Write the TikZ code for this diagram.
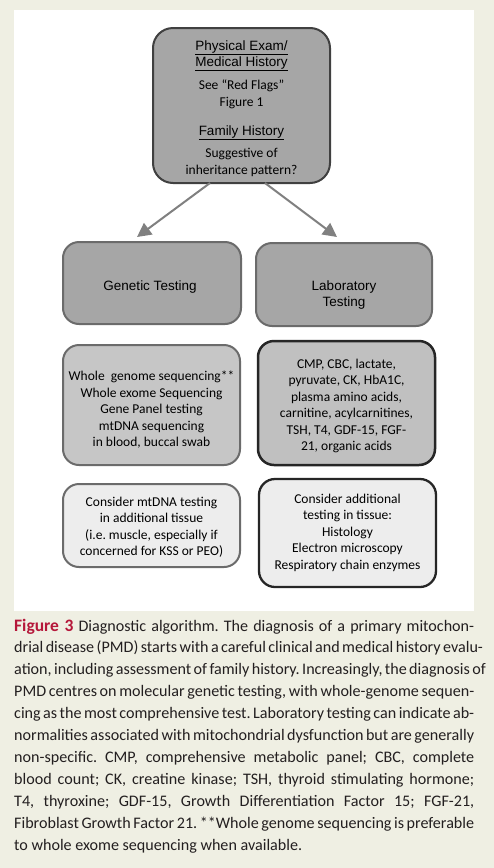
\documentclass[tikz,border=0pt]{standalone}
\usepackage{fontspec}
\setmainfont{Carlito}
\newfontfamily\arialf{Liberation Sans}
\newfontfamily\capf{Carlito}
\usetikzlibrary{arrows.meta}
\frenchspacing
\definecolor{bgcream}{HTML}{EFEFE3}
\definecolor{dkfill}{HTML}{A6A6A6}
\definecolor{mdfill}{HTML}{C6C6C6}
\definecolor{mdfillb}{HTML}{C0C0C0}
\definecolor{ltfill}{HTML}{EDEDED}
\definecolor{dkline}{HTML}{404040}
\definecolor{gyline}{HTML}{6B6B6B}
\definecolor{blline}{HTML}{262626}
\definecolor{arrowgrey}{HTML}{808080}
\definecolor{figred}{HTML}{B5173A}
\definecolor{captext}{HTML}{231F20}
\newcommand{\capline}[1]{\makebox[460pt][s]{#1}}
\tikzset{
  x=1pt, y=-1pt,
  boxbase/.style={draw, rectangle, rounded corners=16pt, inner sep=0pt, line width=2pt},
  topbox/.style={boxbase, fill=dkfill, draw=dkline, rounded corners=20pt},
  headbox/.style={boxbase, fill=dkfill, draw=gyline},
  midbox/.style={boxbase, fill=mdfill, draw=gyline},
  midboxb/.style={boxbase, fill=mdfillb, draw=blline, line width=2.5pt},
  lowbox/.style={boxbase, fill=ltfill, draw=gyline},
  lowboxb/.style={boxbase, fill=ltfill, draw=blline, line width=2.3pt},
  txt/.style={align=center, inner sep=0pt, font=\fontsize{13.5}{16.5}\selectfont},
  atxt/.style={align=center, inner sep=0pt, font=\arialf\fontsize{13.5}{16}\selectfont},
  arr/.style={draw=arrowgrey, line width=2pt, -{Triangle[length=14pt,width=14pt,fill=arrowgrey]}},
  captxt/.style={anchor=base west, inner sep=0pt, text=captext, font=\capf\fontsize{16.1}{21.9}\selectfont}
}
\begin{document}
\begin{tikzpicture}
\useasboundingbox (0,0) rectangle (494,868);
\fill[bgcream] (0,0) rectangle (494,868);
\fill[white] (14,10) rectangle (474,611);

\node[topbox, minimum width=177pt, minimum height=155pt] (top) at (241.5,105.5) {};
\node[atxt] (t1) at (241.5,56) {\underline{Physical Exam/}\\\underline{Medical History}};
\node[txt] (t2) at (241.5,94.5) {See ``Red Flags''\\Figure 1};
\node[atxt] (t3) at (241.5,133) {\underline{Family History}};
\node[txt] (t4) at (241.5,162.5) {Suggestive of\\inheritance pattern?};

\node[headbox, minimum width=178pt, minimum height=82pt] (gen) at (152,283) {};
\node[atxt] (gent) at (150,287) {Genetic Testing};
\node[headbox, minimum width=176pt, minimum height=83pt] (lab) at (344,284.5) {};
\node[atxt] (labt) at (344,295) {Laboratory\\Testing};

\node[midbox, minimum width=177pt, minimum height=120pt] (wg) at (151.5,405) {};
\node[txt] (wgt) at (151.5,410) {Whole\ \ genome sequencing**\\Whole exome Sequencing\\Gene Panel testing\\mtDNA sequencing\\in blood, buccal swab};
\node[midboxb, minimum width=177pt, minimum height=124pt] (cmp) at (346.5,403) {};
\node[txt] (cmpt) at (346.5,406) {CMP, CBC, lactate,\\pyruvate, CK, HbA1C,\\plasma amino acids,\\carnitine, acylcarnitines,\\TSH, T4, GDF-15, FGF-\\21, organic acids};

\node[lowbox, minimum width=177pt, minimum height=83pt] (mt) at (151.5,525.5) {};
\node[txt] (mtt) at (151.5,527) {Consider mtDNA testing\\in additional tissue\\(i.e. muscle, especially if\\concerned for KSS or PEO)};
\node[lowboxb, minimum width=177pt, minimum height=108pt] (add) at (347.5,533) {};
\node[txt] (addt) at (347.5,532.5) {Consider additional\\testing in tissue:\\Histology\\Electron microscopy\\Respiratory chain enzymes};

\coordinate (a1s) at (210,183);
\coordinate (a1e) at (137,237);
\coordinate (a2s) at (265,183);
\coordinate (a2e) at (337,237);
\draw[arr] (a1s) -- (a1e);
\draw[arr] (a2s) -- (a2e);

\node[captxt] (c1) at (14,631) {\capline{{\bfseries\fontsize{17.5}{21.9}\selectfont\color{figred}Figure 3} Diagnostic algorithm. The diagnosis of a primary mitochon-}};
\node[captxt] (c2) at (14,652.9) {\capline{drial disease (PMD) starts with a careful clinical and medical history evalu-}};
\node[captxt] (c3) at (14,674.8) {\capline{ation, including assessment of family history. Increasingly, the diagnosis of}};
\node[captxt] (c4) at (14,696.7) {\capline{PMD centres on molecular genetic testing, with whole-genome sequen-}};
\node[captxt] (c5) at (14,718.6) {\capline{cing as the most comprehensive test. Laboratory testing can indicate ab-}};
\node[captxt] (c6) at (14,740.5) {\capline{normalities associated with mitochondrial dysfunction but are generally}};
\node[captxt] (c7) at (14,762.4) {\capline{non-specific. CMP, comprehensive metabolic panel; CBC, complete}};
\node[captxt] (c8) at (14,784.3) {\capline{blood count; CK, creatine kinase; TSH, thyroid stimulating hormone;}};
\node[captxt] (c9) at (14,806.2) {\capline{T4, thyroxine; GDF-15, Growth Differentiation Factor 15; FGF-21,}};
\node[captxt] (c10) at (14,828.1) {\capline{Fibroblast Growth Factor 21. **Whole genome sequencing is preferable}};
\node[captxt] (c11) at (14,850) {to whole exome sequencing when available.};
\end{tikzpicture}
\end{document}
